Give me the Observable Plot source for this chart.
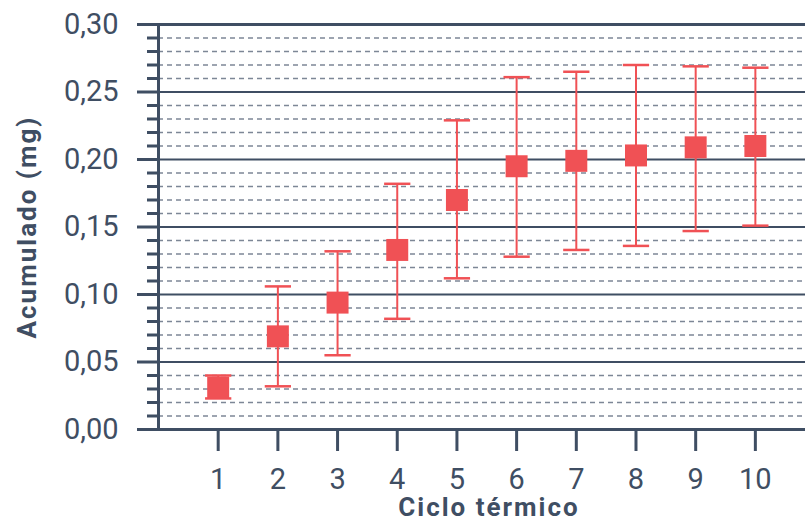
<!DOCTYPE html>
<html><head><meta charset="utf-8">
<script src="https://cdn.jsdelivr.net/npm/d3@7"></script>
<script src="https://cdn.jsdelivr.net/npm/@observablehq/plot@0.6"></script>
<style>body{margin:0;background:#fff}</style>
</head><body><div id="chart"></div>
<script>
const ciclos = [1, 2, 3, 4, 5, 6, 7, 8, 9, 10];
const media  = [0.031, 0.069, 0.094, 0.133, 0.170, 0.195, 0.199, 0.203, 0.209, 0.210];
const minimo = [0.023, 0.032, 0.055, 0.082, 0.112, 0.128, 0.133, 0.136, 0.147, 0.151];
const maximo = [0.040, 0.106, 0.132, 0.182, 0.229, 0.261, 0.265, 0.270, 0.269, 0.268];
const majorTicks = [0, 0.05, 0.10, 0.15, 0.20, 0.25, 0.30];
const minorTicks = [0.01, 0.02, 0.03, 0.04, 0.06, 0.07, 0.08, 0.09, 0.11, 0.12, 0.13, 0.14,
                    0.16, 0.17, 0.18, 0.19, 0.21, 0.22, 0.23, 0.24, 0.26, 0.27, 0.28, 0.29];
const xTitle = "Ciclo térmico";
const yTitle = "Acumulado (mg)";

const data = ciclos.map((c, i) => ({c, m: media[i], lo: minimo[i], hi: maximo[i]}));
const fmt = v => v.toFixed(2).replace(".", ",");
const dark = "#3f4e63";
const red = "#f05155";
const capHalf = 0.22;

const chart = Plot.plot({
  width: 805, height: 521,
  marginLeft: 158, marginRight: 0, marginTop: 24, marginBottom: 92,
  style: {fontFamily: "Roboto", color: dark, background: "#fff", overflow: "visible"},
  x: {type: "linear", domain: [0, 10.84]},
  y: {domain: [0, 0.30]},
  marks: [
    Plot.ruleY(minorTicks, {stroke: "#7d8796", strokeWidth: 1.5, strokeDasharray: "5,4"}),
    Plot.ruleY(majorTicks.slice(1, -1), {stroke: dark, strokeWidth: 2}),
    Plot.ruleY([majorTicks[0], majorTicks[majorTicks.length - 1]], {stroke: dark, strokeWidth: 3}),
    Plot.axisY(minorTicks, {tickSize: 11, strokeWidth: 3, tickFormat: () => "", label: null}),
    Plot.axisY(majorTicks, {tickSize: 21, tickPadding: 19, strokeWidth: 3, tickFormat: fmt, fontSize: 29, label: null}),
    Plot.ruleX([0], {stroke: dark, strokeWidth: 3}),
    Plot.axisX(ciclos, {tickSize: 22, tickPadding: 17, strokeWidth: 3, fontSize: 29, label: null, tickFormat: d => String(d)}),
    Plot.ruleX(data, {x: "c", y1: "lo", y2: "hi", stroke: red, strokeWidth: 2}),
    Plot.link(data, {x1: d => d.c - capHalf, x2: d => d.c + capHalf, y1: "lo", y2: "lo", stroke: red, strokeWidth: 2.5}),
    Plot.link(data, {x1: d => d.c - capHalf, x2: d => d.c + capHalf, y1: "hi", y2: "hi", stroke: red, strokeWidth: 2.5}),
    Plot.dot(data, {x: "c", y: "m", symbol: "square", r: 12.4, fill: red, stroke: null}),
    Plot.text([yTitle], {frameAnchor: "left", textAnchor: "middle", lineAnchor: "middle", dx: -131, rotate: -90, fontWeight: "bold", fontSize: 26, fill: dark, className: "atitle"}),
    Plot.text([xTitle], {frameAnchor: "bottom", textAnchor: "middle", lineAnchor: "middle", dx: 7, dy: 78, fontWeight: "bold", fontSize: 26, fill: dark, className: "atitle"})
  ]
});
d3.select(chart).selectAll(".atitle text").style("letter-spacing", "2px");
document.getElementById("chart").append(chart);
</script>
</body></html>
